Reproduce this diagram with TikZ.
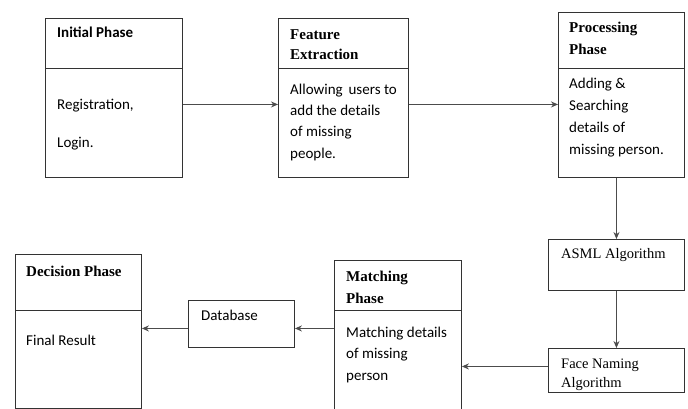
\documentclass[tikz,border=0pt]{standalone}
\usepackage{fontspec}
\setmainfont{Carlito}
\newfontfamily\headfont{Liberation Serif}
\usetikzlibrary{arrows.meta,positioning,calc}

\begin{document}
\begin{tikzpicture}[
    x=1pt, y=-1pt,
    >={Stealth[length=7pt,width=6pt]},
    phase/.style={draw=black!80, line width=0.9pt, rectangle,
        anchor=north west, inner sep=0pt},
    divline/.style={draw=black!80, line width=0.9pt},
    headtxt/.style={anchor=base west, align=left, inner sep=0pt,
        font=\headfont\bfseries\fontsize{15}{22}\selectfont},
    plainhead/.style={anchor=base west, align=left, inner sep=0pt,
        font=\headfont\fontsize{14.5}{19}\selectfont},
    bodytxt/.style={anchor=base west, align=left, inner sep=0pt,
        font=\fontsize{15}{21.5}\selectfont},
    flow/.style={->, line width=0.9pt, color=black!70}
]
\useasboundingbox (0,0) rectangle (688,409);

% boxes
\node[phase, minimum width=137pt, minimum height=159pt] (IP) at (45,18) {};
\node[phase, minimum width=130pt, minimum height=159pt] (FE) at (278,18) {};
\node[phase, minimum width=126pt, minimum height=165pt] (PP) at (558,12) {};
\node[phase, minimum width=136pt, minimum height=51pt] (AA) at (548,239) {};
\node[phase, minimum width=136pt, minimum height=44pt] (FN) at (548,348) {};
\node[phase, minimum width=127pt, minimum height=152pt] (MP) at (334,260) {};
\node[phase, minimum width=106pt, minimum height=47pt] (DB) at (188,300) {};
\node[phase, minimum width=126pt, minimum height=154pt] (DP) at (15,254) {};

% dividers
\draw[divline] ($(IP.north west)+(0,50)$) -- ($(IP.north east)+(0,50)$);
\draw[divline] ($(FE.north west)+(0,50)$) -- ($(FE.north east)+(0,50)$);
\draw[divline] ($(PP.north west)+(0,56)$) -- ($(PP.north east)+(0,56)$);
\draw[divline] ($(MP.north west)+(0,50)$) -- ($(MP.north east)+(0,50)$);
\draw[divline] ($(DP.north west)+(0,56)$) -- ($(DP.north east)+(0,56)$);

% texts (base = last line)
\node[bodytxt, font=\bfseries\fontsize{15}{22}\selectfont] (IPh) at ($(IP.north west)+(12,20)$) {Initial Phase};
\node[bodytxt, font=\fontsize{15}{38}\selectfont] (IPb) at ($(IP.north west)+(12,130)$) {Registration,\\Login.};
\node[headtxt, font=\headfont\bfseries\fontsize{15}{20}\selectfont] (FEh) at ($(FE.north west)+(12,42)$) {Feature\\Extraction};
\node[bodytxt, font=\fontsize{15}{21.3}\selectfont] (FEb) at ($(FE.north west)+(12,140)$) {Allowing\, users to\\add the details\\of missing\\people.};
\node[headtxt] (PPh) at ($(PP.north west)+(11,43)$) {Processing\\Phase};
\node[bodytxt, font=\fontsize{15}{22.3}\selectfont] (PPb) at ($(PP.north west)+(11,143)$) {Adding \&\\Searching\\details of\\missing person.};
\node[plainhead] (AAt) at ($(AA.north west)+(13,19)$) {ASML Algorithm};
\node[plainhead] (FNt) at ($(FN.north west)+(13,39)$) {Face Naming\\Algorithm};
\node[headtxt] (MPh) at ($(MP.north west)+(12,43)$) {Matching\\Phase};
\node[bodytxt] (MPb) at ($(MP.north west)+(12,120)$) {Matching details\\of missing\\person};
\node[bodytxt] (DBt) at ($(DB.north west)+(13,20)$) {Database};
\node[headtxt] (DPh) at ($(DP.north west)+(11,22)$) {Decision Phase};
\node[bodytxt] (DPb) at ($(DP.north west)+(11,91)$) {Final Result};

% connectors
\draw[flow] ([yshift=-6.5pt]IP.east) -- ([yshift=-6.5pt]IP.east -| FE.west);
\draw[flow] ([yshift=-6.5pt]FE.east) -- ([yshift=-6.5pt]FE.east -| PP.west);
\draw[flow] (PP.south -| AA.north) -- (AA.north);
\draw[flow] (AA.south) -- (FN.north);
\draw[flow] ([yshift=4pt]FN.west) -- ([yshift=4pt]FN.west -| MP.east);
\draw[flow] ([yshift=-4.5pt]DB.east -| MP.west) -- ([yshift=-4.5pt]DB.east);
\draw[flow] ([yshift=-4.5pt]DB.west) -- ([yshift=-4.5pt]DB.west -| DP.east);
\end{tikzpicture}
\end{document}
